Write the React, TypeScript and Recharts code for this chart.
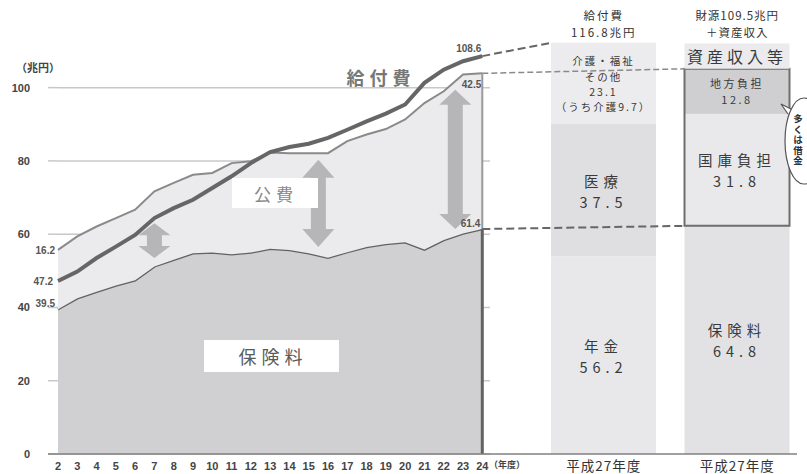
import React from "react";
import {
  ComposedChart,
  Area,
  Line,
  XAxis,
  YAxis,
  CartesianGrid,
  ReferenceLine,
  BarChart,
  Bar,
  LabelList,
} from "recharts";

// 年度 (平成)
const years = [2, 3, 4, 5, 6, 7, 8, 9, 10, 11, 12, 13, 14, 15, 16, 17, 18, 19, 20, 21, 22, 23, 24];
// 保険料 (兆円)
const hokenryo = [39.5, 42.5, 44.3, 46.0, 47.4, 51.2, 53.0, 54.8, 55.0, 54.5, 55.0, 56.0, 55.7, 54.8, 53.6, 55.1, 56.5, 57.3, 57.8, 55.8, 58.4, 60.2, 61.4];
// 公費 (兆円)
const kouhi = [16.2, 16.9, 17.8, 18.4, 19.3, 20.5, 21.0, 21.4, 21.7, 24.9, 24.9, 26.3, 26.4, 27.3, 28.5, 30.3, 30.7, 31.4, 33.5, 40.0, 40.6, 43.4, 42.5];
// 給付費 (兆円)
const kyufuhi = [47.2, 49.8, 53.5, 56.6, 59.8, 64.4, 67.1, 69.4, 72.6, 75.8, 79.4, 82.4, 83.8, 84.7, 86.3, 88.5, 90.8, 92.9, 95.4, 101.3, 104.9, 107.2, 108.6];
const yTicks = [0, 20, 40, 60, 80, 100];

// 平成27年度 内訳
const barKeys = ["kyufu", "zaigen"];
const nenkin = [56.2, null];
const iryo = [37.5, null];
const kaigo = [23.1, null];
const hokenryo27 = [null, 64.8];
const kokko = [null, 31.8];
const chiho = [null, 12.8];
const shisan = [null, 7.2];

// 公費の矢印 (年度, 上端, 下端)
const arrows = [
  { year: 7, top: 63.0, bottom: 53.5, head: 12 },
  { year: 15.5, top: 80.3, bottom: 56.5, head: 18 },
  { year: 22.6, top: 99.4, bottom: 61.4, head: 15 },
];

const data = years.map((year, i) => ({
  year,
  hokenryo: hokenryo[i],
  kouhi: kouhi[i],
  kyufuhi: kyufuhi[i],
}));

const barData = barKeys.map((key, i) => ({
  key,
  nenkin: nenkin[i],
  iryo: iryo[i],
  kaigo: kaigo[i],
  hokenryo27: hokenryo27[i],
  kokko: kokko[i],
  chiho: chiho[i],
  shisan: shisan[i],
}));

const JP = "'Noto Sans CJK JP', sans-serif";
const NUM = "'Liberation Sans', Arial, sans-serif";

// left chart layout
const L = { width: 500, height: 474, top: 51, left: 58, right: 490, bottom: 454, xMax: 24.4, yMax: 110 };
const sxL = (yr: number) => L.left + ((yr - 2) / (L.xMax - 2)) * (L.right - L.left);
const syL = (v: number) => L.bottom - (v / L.yMax) * (L.bottom - L.top);

// right chart layout
const R = { x0: 500, width: 307, mLeft: 37, mRight: 3, top: 31.5, bottom: 454, yMax: 120, barSize: 105 };
const band = (R.width - R.mLeft - R.mRight) / 2;
const barLeft = (i: number) => R.x0 + R.mLeft + i * band + (band - R.barSize) / 2;
const barCenter = (i: number) => R.x0 + R.mLeft + i * band + band / 2;
const syR = (v: number) => R.bottom - (v / R.yMax) * (R.bottom - R.top);

const last = years.length - 1;

// one <text> with stacked lines
function MultiText({ x, y, lines, lh, ...rest }: any) {
  return (
    <text x={x} y={y} textAnchor="middle" dominantBaseline="central" {...rest}>
      {lines.map((t: string, k: number) => (
        <tspan key={k} x={x} dy={k === 0 ? 0 : lh}>
          {t}
        </tspan>
      ))}
    </text>
  );
}

function barLabel(lines: string[], size: number, spacing: number, lh: number) {
  return (props: any) => {
    const { x, y, width, height, value } = props;
    if (value == null || !height) return null;
    const cx = Number(x) + Number(width) / 2;
    const cy = Number(y) + Number(height) / 2;
    const start = cy - ((lines.length - 1) * lh) / 2;
    return (
      <MultiText
        x={cx}
        y={start}
        lines={lines}
        lh={lh}
        fontFamily={JP}
        fontSize={size}
        letterSpacing={spacing}
        fill="#3a3a3a"
      />
    );
  };
}

function boxShape(side: "top" | "bottom") {
  return (props: any) => {
    const { x, y, width, height, fill } = props;
    if (!height) return null;
    const x2 = x + width;
    const y2 = y + height;
    const d =
      side === "bottom"
        ? `M${x},${y} L${x},${y2} L${x2},${y2} L${x2},${y}`
        : `M${x},${y2} L${x},${y} L${x2},${y} L${x2},${y2}`;
    return (
      <g>
        <rect x={x} y={y} width={width} height={height} fill={fill} />
        <path d={d} fill="none" stroke="#6e6e6e" strokeWidth={2} />
      </g>
    );
  };
}

function arrowPoints(cx: number, yt: number, yb: number, hl: number) {
  const hw = 16;
  const sw = 7.5;
  return [
    [cx, yt],
    [cx + hw, yt + hl],
    [cx + sw, yt + hl],
    [cx + sw, yb - hl],
    [cx + hw, yb - hl],
    [cx, yb],
    [cx - hw, yb - hl],
    [cx - sw, yb - hl],
    [cx - sw, yt + hl],
    [cx - hw, yt + hl],
  ]
    .map((p) => p.join(","))
    .join(" ");
}

export default function App() {
  const topEnd = hokenryo[last] + kouhi[last];
  const shisanTop = (hokenryo27[1] ?? 0) + (kokko[1] ?? 0) + (chiho[1] ?? 0);
  const kyufuTotal = (nenkin[0] ?? 0) + (iryo[0] ?? 0) + (kaigo[0] ?? 0);

  return (
    <div style={{ position: "absolute", left: 0, top: 0, width: 807, height: 474, background: "#fff", overflow: "hidden" }}>
      <div style={{ position: "absolute", left: 0, top: 0 }}>
        <ComposedChart
          width={L.width}
          height={L.height}
          data={data}
          margin={{ top: L.top, right: L.width - L.right, bottom: 0, left: 0 }}
        >
          <CartesianGrid
            vertical={false}
            horizontalValues={yTicks}
            stroke="#c8c8c8"
            strokeWidth={1.5}
          />
          <XAxis
            dataKey="year"
            type="number"
            domain={[2, L.xMax]}
            ticks={years}
            interval={0}
            height={20}
            axisLine={false}
            tickLine={false}
            tickMargin={2}
            tick={{ fontSize: 11, fontWeight: 700, fill: "#444", fontFamily: NUM }}
          />
          <YAxis
            domain={[0, L.yMax]}
            ticks={yTicks}
            width={L.left}
            axisLine={false}
            tickLine={{ stroke: "#c8c8c8", strokeWidth: 1.5 }}
            tickSize={10}
            tickMargin={18}
            tick={{ fontSize: 11, fontWeight: 700, fill: "#444", fontFamily: NUM }}
          />
          <Area
            type="linear"
            dataKey="hokenryo"
            stackId="a"
            stroke="#626262"
            strokeWidth={2.5}
            fill="#d0d0d2"
            fillOpacity={1}
            isAnimationActive={false}
          />
          <Area
            type="linear"
            dataKey="kouhi"
            stackId="a"
            stroke="#8a8a8a"
            strokeWidth={2}
            fill="#ebebed"
            fillOpacity={1}
            isAnimationActive={false}
          />
          <Line
            type="linear"
            dataKey="kyufuhi"
            stroke="#666"
            strokeWidth={4}
            dot={false}
            isAnimationActive={false}
          />
          <ReferenceLine
            segment={[{ x: 24, y: hokenryo[last] }, { x: 24, y: topEnd }]}
            stroke="#9a9a9a"
            strokeWidth={2}
          />
          <ReferenceLine
            segment={[{ x: 24, y: 0 }, { x: 24, y: hokenryo[last] }]}
            stroke="#626262"
            strokeWidth={3}
          />
        </ComposedChart>
      </div>

      <div style={{ position: "absolute", left: R.x0, top: 0 }}>
        <BarChart
          width={R.width}
          height={474}
          data={barData}
          barSize={R.barSize}
          margin={{ top: R.top, right: R.mRight, bottom: 0, left: R.mLeft }}
        >
          <XAxis
            dataKey="key"
            height={474 - R.bottom}
            axisLine={false}
            tickLine={false}
            tickMargin={1}
            tickFormatter={() => "平成27年度"}
            tick={{ fontSize: 13.5, fill: "#333", fontFamily: JP, letterSpacing: 1 }}
          />
          <YAxis hide domain={[0, R.yMax]} />
          <Bar dataKey="nenkin" stackId="s" fill="#e8e8ea" isAnimationActive={false}>
            <LabelList dataKey="nenkin" content={barLabel(["年金", "56.2"], 14.5, 5, 21)} />
          </Bar>
          <Bar dataKey="iryo" stackId="s" fill="#dfdfe1" isAnimationActive={false}>
            <LabelList dataKey="iryo" content={barLabel(["医療", "37.5"], 14.5, 5, 21)} />
          </Bar>
          <Bar dataKey="kaigo" stackId="s" fill="#ececee" isAnimationActive={false}>
            <LabelList
              dataKey="kaigo"
              content={barLabel(["介護・福祉", "その他", "23.1", "（うち介護9.7）"], 10.5, 2, 15.3)}
            />
          </Bar>
          <Bar dataKey="hokenryo27" stackId="s" fill="#e2e2e4" isAnimationActive={false}>
            <LabelList dataKey="hokenryo27" content={barLabel(["保険料", "64.8"], 14.5, 5, 21)} />
          </Bar>
          <Bar dataKey="kokko" stackId="s" fill="#e9e9eb" shape={boxShape("bottom")} isAnimationActive={false}>
            <LabelList dataKey="kokko" content={barLabel(["国庫負担", "31.8"], 14.5, 5, 21)} />
          </Bar>
          <Bar dataKey="chiho" stackId="s" fill="#cfcfd1" shape={boxShape("top")} isAnimationActive={false}>
            <LabelList dataKey="chiho" content={barLabel(["地方負担", "12.8"], 11, 2.5, 16)} />
          </Bar>
          <Bar dataKey="shisan" stackId="s" fill="#ebebed" isAnimationActive={false}>
            <LabelList dataKey="shisan" content={barLabel(["資産収入等"], 16, 4, 16)} />
          </Bar>
        </BarChart>
      </div>

      <svg
        width={807}
        height={474}
        style={{ position: "absolute", left: 0, top: 0, pointerEvents: "none" }}
      >
        {/* baseline */}
        <line x1={48} y1={454} x2={797} y2={454} stroke="#808080" strokeWidth={1.5} />

        {/* 公費 arrows */}
        {arrows.map((a, i) => (
          <polygon
            key={i}
            points={arrowPoints(sxL(a.year), syL(a.top), syL(a.bottom), a.head)}
            fill="#b6b6b8"
          />
        ))}

        {/* connectors */}
        <line
          x1={sxL(24)}
          y1={syL(kyufuhi[last])}
          x2={barLeft(0)}
          y2={syR(kyufuTotal)}
          stroke="#666"
          strokeWidth={2}
          strokeDasharray="8 4"
        />
        <line
          x1={sxL(24)}
          y1={syL(topEnd)}
          x2={barLeft(1)}
          y2={syR(shisanTop)}
          stroke="#8a8a8a"
          strokeWidth={1.5}
          strokeDasharray="6 3"
        />
        <line
          x1={sxL(24)}
          y1={syL(hokenryo[last])}
          x2={barLeft(1)}
          y2={syR(hokenryo27[1] ?? 0)}
          stroke="#666"
          strokeWidth={2}
          strokeDasharray="8 4"
        />

        {/* area labels */}
        <rect x={232} y={178} width={86} height={30} fill="#fff" />
        <text x={276} y={193} textAnchor="middle" dominantBaseline="central" fontFamily={JP} fontSize={17} letterSpacing={5} fill="#888">
          公費
        </text>
        <rect x={204} y={340} width={135} height={32} fill="#fff" />
        <text x={273} y={356} textAnchor="middle" dominantBaseline="central" fontFamily={JP} fontSize={18} letterSpacing={5} fill="#5a5a5a">
          保険料
        </text>
        <text x={381} y={77} textAnchor="middle" dominantBaseline="central" fontFamily={JP} fontSize={18} fontWeight={700} letterSpacing={5} fill="#777">
          給付費
        </text>

        {/* value labels */}
        <g fontFamily={NUM} fontSize={10} fontWeight={700} fill="#555">
          <text x={sxL(24) - 1} y={syL(kyufuhi[last]) - 8} textAnchor="end" dominantBaseline="central">108.6</text>
          <text x={sxL(24) - 1} y={syL(topEnd) + 11} textAnchor="end" dominantBaseline="central">{kouhi[last].toFixed(1)}</text>
          <text x={sxL(24) - 2} y={syL(hokenryo[last]) - 6} textAnchor="end" dominantBaseline="central">{hokenryo[last].toFixed(1)}</text>
          <text x={sxL(2) - 3} y={syL(hokenryo[0] + kouhi[0]) + 1} textAnchor="end" dominantBaseline="central">{kouhi[0].toFixed(1)}</text>
          <text x={sxL(2) - 5} y={syL(kyufuhi[0])} textAnchor="end" dominantBaseline="central">{kyufuhi[0].toFixed(1)}</text>
          <text x={sxL(2) - 3} y={syL(hokenryo[0]) - 6} textAnchor="end" dominantBaseline="central">{hokenryo[0].toFixed(1)}</text>
        </g>

        {/* axis captions */}
        <text x={16} y={67} dominantBaseline="central" fontFamily={JP} fontSize={11} fontWeight={700} fill="#444">
          （兆円）
        </text>
        <text x={489} y={464} dominantBaseline="central" fontFamily={JP} fontSize={9} fontWeight={700} fill="#444">
          （年度）
        </text>

        {/* headers */}
        <MultiText
          x={barCenter(0)}
          y={15}
          lines={["給付費", "116.8兆円"]}
          lh={17}
          fontFamily={JP}
          fontSize={11.5}
          letterSpacing={2}
          fill="#333"
        />
        <MultiText
          x={barCenter(1)}
          y={15}
          lines={["財源109.5兆円", "＋資産収入"]}
          lh={17}
          fontFamily={JP}
          fontSize={11.5}
          letterSpacing={1}
          fill="#333"
        />

        {/* callout */}
        <path d="M788,114 L781,104 L793,110" fill="#fff" stroke="#555" strokeWidth={1.2} />
        <ellipse cx={804} cy={141} rx={19} ry={43} fill="#fff" stroke="#555" strokeWidth={1.2} />
        <text
          x={798}
          y={114}
          fontFamily={JP}
          fontSize={9.5}
          fontWeight={700}
          letterSpacing={1}
          fill="#333"
          style={{ writingMode: "vertical-rl" }}
        >
          多くは借金
        </text>
      </svg>
    </div>
  );
}
